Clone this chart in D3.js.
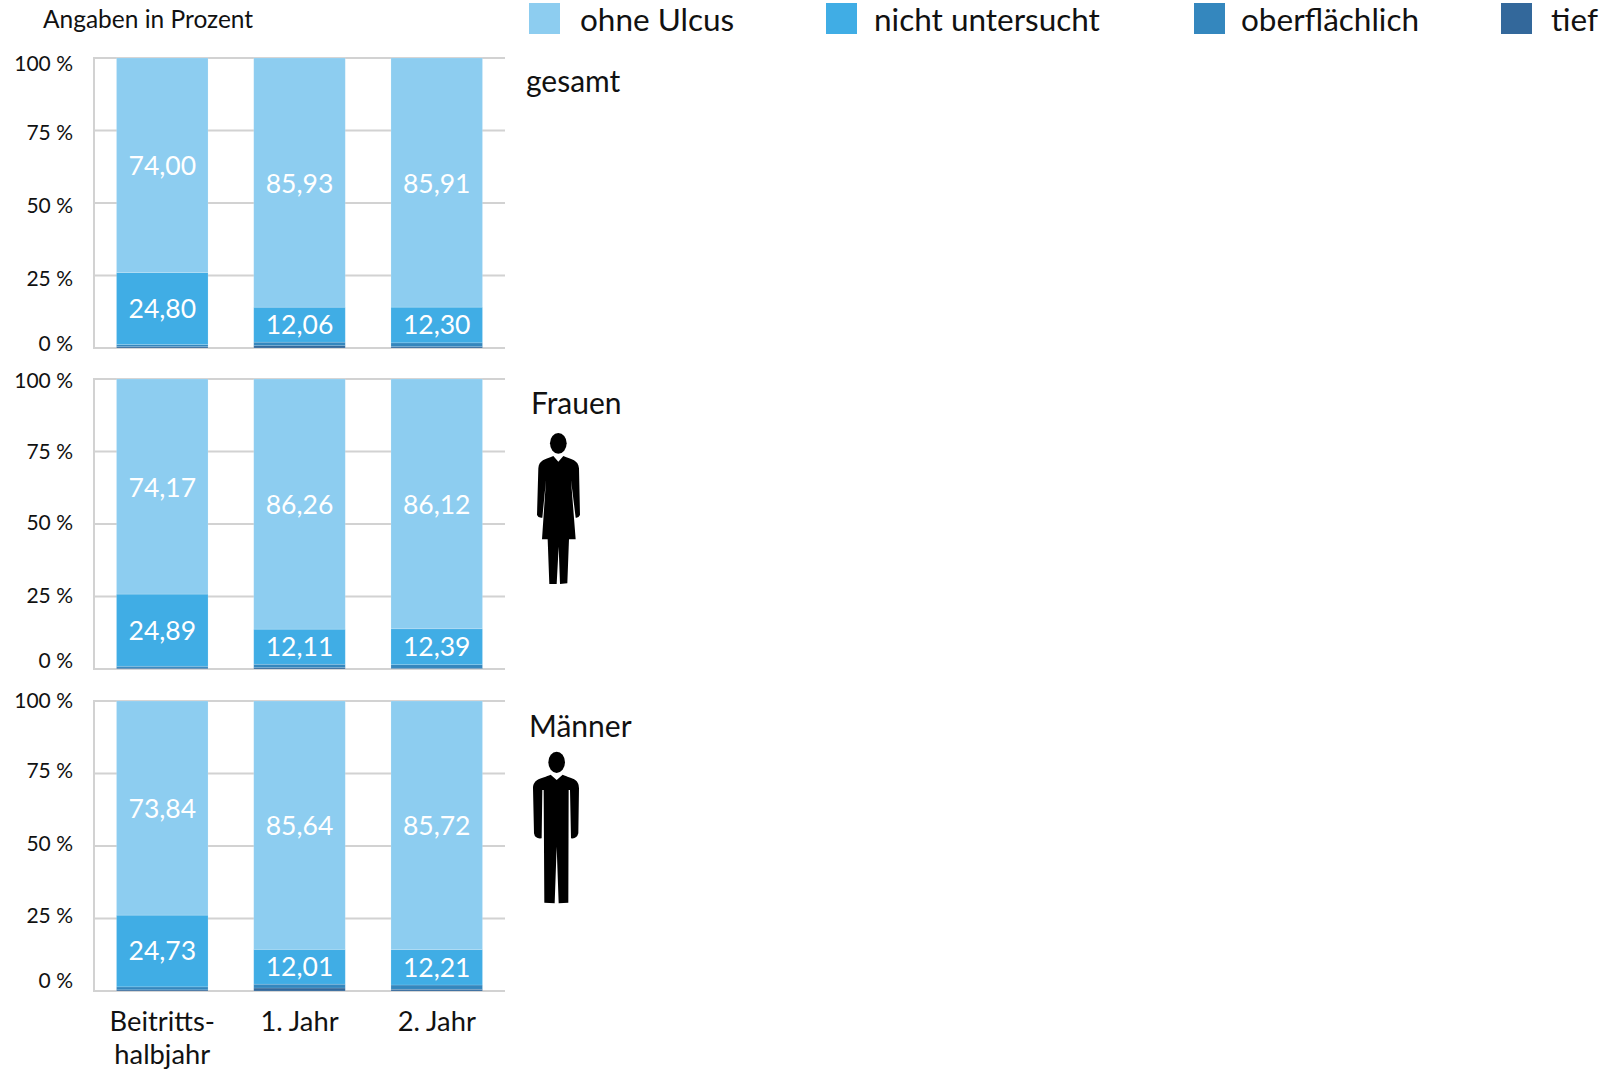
<!DOCTYPE html>
<html>

<head>
    <meta charset="utf-8">
    <script src="https://d3js.org/d3.v7.min.js"></script>
    <style>
        html, body {
            margin: 0;
            background: #fff;
            overflow: hidden;
        }

        svg text {
            font-family: Lato, sans-serif;
            fill: #111;
        }

        .grid line, .baseline {
            stroke: #d2d2d2;
            stroke-width: 2;
        }

        .yAxis text { font-size: 21px; }
        .yAxis path { display: none; }
        svg text.value { font-size: 26.5px; fill: #fff; text-anchor: middle; }
        .legend text { font-size: 31.5px; }
        .panelName { font-size: 30px; }
    </style>
</head>

<body>
    <div id="graph"></div>
    <script>
        var periods = ["Beitritts-halbjahr", "1. Jahr", "2. Jahr"];
        var seriesNames = ["tief", "oberflächlich", "nicht untersucht", "ohne Ulcus"];
        var seriesColors = ["#33689b", "#3487be", "#40ade5", "#8dcdf0"];
        var yTicks = [0, 25, 50, 75, 100];

        // the last two series have no printed values
        var gesamtTief = [0.45, 0.8, 0.45];
        var gesamtOberflaechlich = [0.75, 1.21, 1.34];
        var gesamtNicht = [24.80, 12.06, 12.30];
        var gesamtOhne = [74.00, 85.93, 85.91];

        var frauenTief = [0.3, 0.45, 0.25];
        var frauenOberflaechlich = [0.64, 1.18, 1.24];
        var frauenNicht = [24.89, 12.11, 12.39];
        var frauenOhne = [74.17, 86.26, 86.12];

        var maennerTief = [0.4, 1.03, 0.6];
        var maennerOberflaechlich = [1.03, 1.32, 1.47];
        var maennerNicht = [24.73, 12.01, 12.21];
        var maennerOhne = [73.84, 85.64, 85.72];

        var panels = [
            { name: "gesamt", top: 58, series: [gesamtTief, gesamtOberflaechlich, gesamtNicht, gesamtOhne], nameX: 526, nameY: 92, labelShift: [-5, 3, 2, 2, 5] },
            { name: "Frauen", top: 379, series: [frauenTief, frauenOberflaechlich, frauenNicht, frauenOhne], nameX: 531, nameY: 414, labelShift: [-9, -1, -2, 0, 1] },
            { name: "Männer", top: 701, series: [maennerTief, maennerOberflaechlich, maennerNicht, maennerOhne], nameX: 529, nameY: 737, labelShift: [-11, -3, -3, -3, -1] }
        ];

        var panelHeight = 290;
        var chartLeft = 94;
        var chartRight = 505;

        var svg = d3.select("#graph").append("svg").attr("width", 1605).attr("height", 1070);
        var comma = d3.formatLocale({ decimal: ",", thousands: ".", grouping: [3], currency: ["", ""] }).format(".2f");

        var x = d3.scaleBand().domain(periods).range([chartLeft, chartRight]).paddingInner(0.333).paddingOuter(0.164);
        var stack = d3.stack().keys([0, 1, 2, 3]).value((d, key) => d[key]);

        panels.forEach(panel => {
            var y = d3.scaleLinear().domain([0, 100]).range([panel.top + panelHeight, panel.top]);
            var g = svg.append("g");

            // gridlines behind the bars
            g.append("g").attr("class", "grid").selectAll("line").data(yTicks).enter().append("line")
                .attr("x1", chartLeft).attr("x2", chartRight)
                .attr("y1", d => y(d)).attr("y2", d => y(d));
            g.append("line").attr("class", "baseline")
                .attr("x1", chartLeft).attr("x2", chartLeft)
                .attr("y1", y(100) - 1).attr("y2", y(0) + 1);

            var axis = g.append("g").attr("class", "yAxis")
                .attr("transform", `translate(${chartLeft},0)`)
                .call(d3.axisLeft(y).tickValues(yTicks).tickSize(0).tickPadding(21).tickFormat(d => d + " %"));
            axis.selectAll(".tick text").attr("dy", (d, i) => (panel.labelShift[i] + 7) + "px");

            var rows = periods.map((p, i) => panel.series.map(s => s[i]));
            rows.forEach((r, i) => r.period = periods[i]);

            stack(rows).forEach((layer, k) => {
                g.append("g").selectAll("rect").data(layer).enter().append("rect")
                    .attr("x", d => x(d.data.period))
                    .attr("width", x.bandwidth())
                    .attr("y", d => y(d[1]))
                    .attr("height", d => y(d[0]) - y(d[1]))
                    .attr("fill", seriesColors[k])
                    .attr("stroke", "#fff")
                    .attr("stroke-opacity", 0.2)
                    .attr("stroke-width", 0.75);

                if (k >= 2) {
                    g.append("g").selectAll("text").data(layer).enter().append("text")
                        .attr("class", "value")
                        .attr("x", d => x(d.data.period) + x.bandwidth() / 2)
                        .attr("y", d => (y(d[0]) + y(d[1])) / 2 + (k == 3 ? 10 : 9.5))
                        .text(d => comma(d[1] - d[0]));
                }
            });

            svg.append("text").attr("class", "panelName")
                .attr("x", panel.nameX).attr("y", panel.nameY).text(panel.name);
        });

        svg.append("text").attr("x", 43).attr("y", 28).style("font-size", "24.5px").text("Angaben in Prozent");

        // x labels under the last panel
        var xLabels = svg.append("g").attr("text-anchor", "middle").style("font-size", "27.3px");
        xLabels.append("text").attr("x", x(periods[0]) + x.bandwidth() / 2).attr("y", 1031).text("Beitritts-");
        xLabels.append("text").attr("x", x(periods[0]) + x.bandwidth() / 2).attr("y", 1064).text("halbjahr");
        xLabels.append("text").attr("x", x(periods[1]) + x.bandwidth() / 2).attr("y", 1031).text(periods[1]);
        xLabels.append("text").attr("x", x(periods[2]) + x.bandwidth() / 2).attr("y", 1031).text(periods[2]);

        // legend
        var legendSwatchX = [529, 826, 1194, 1501];
        var legendTextX = [580, 874, 1241, 1551];
        var legend = svg.append("g").attr("class", "legend");
        [3, 2, 1, 0].forEach((k, i) => {
            legend.append("rect").attr("x", legendSwatchX[i]).attr("y", 3).attr("width", 31).attr("height", 31).attr("fill", seriesColors[k]);
            legend.append("text").attr("x", legendTextX[i]).attr("y", 31).text(seriesNames[k]);
        });

        // silhouettes
        var woman = svg.append("g").attr("transform", "translate(510,380) scale(0.3333)");
        woman.append("ellipse").attr("cx", 145).attr("cy", 190).attr("rx", 25).attr("ry", 31);
        woman.append("path").attr("d", "M130 228L145 245L160 228C185 238 205 240 207 265L210 405Q205 415 197 413L183 300L197 478L177 478L172 610L150 612L146 500L140 612L118 612L113 478L96 478L108 300L97 413Q85 415 81 405L85 265C87 240 105 238 130 228Z");

        var man = svg.append("g").attr("transform", "translate(510,700) scale(0.3333)");
        man.append("ellipse").attr("cx", 140).attr("cy", 187).attr("rx", 25).attr("ry", 32);
        man.append("path").attr("d", "M122 224L140 240L158 224C185 236 207 235 207 265L205 400Q200 418 183 415L180 270L176 270L175 608L146 610L140 440L134 610L103 608L101 270L97 270L95 415Q75 418 72 400L69 265C70 235 95 236 122 224Z");
    </script>
</body>

</html>
